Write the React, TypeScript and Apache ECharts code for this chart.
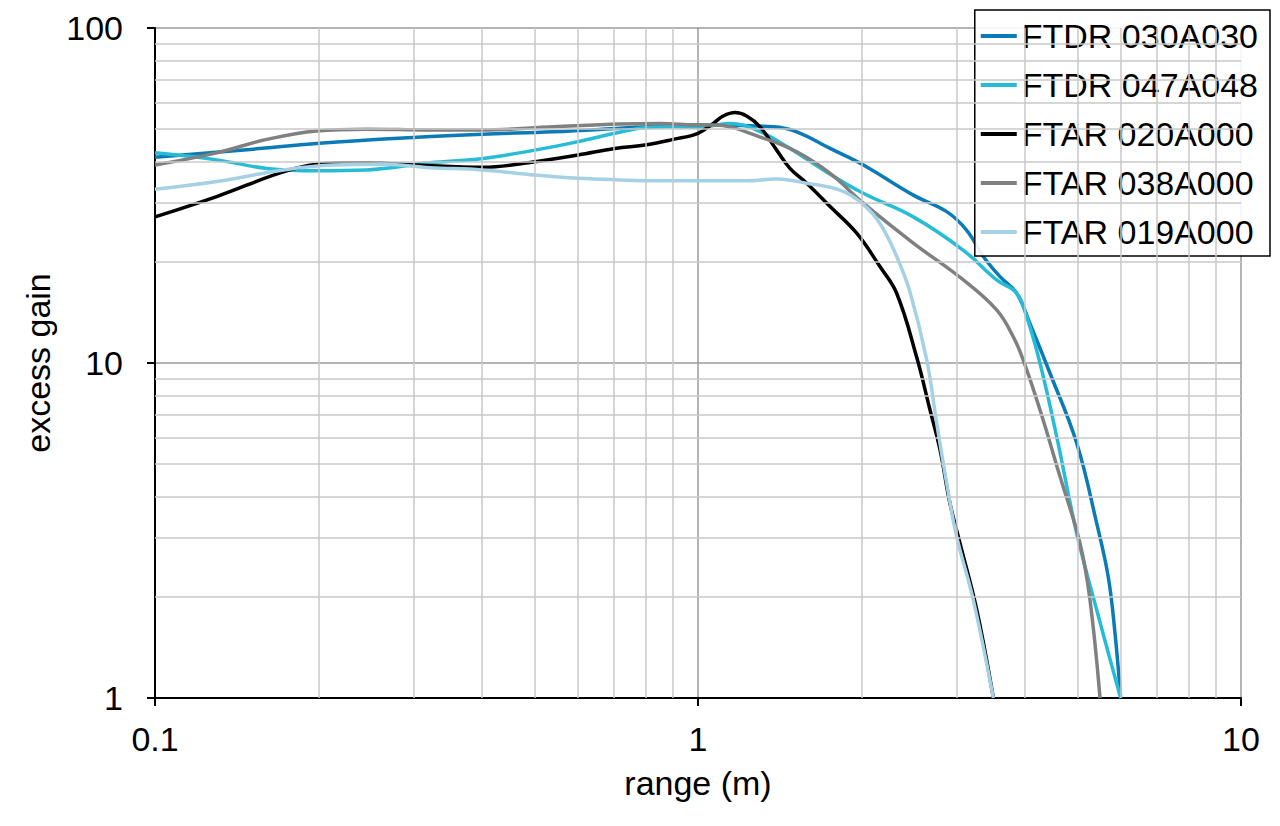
import React, { useEffect, useRef } from "react";
import * as echarts from "echarts";

const SERIES_NAMES = ["FTDR 030A030", "FTDR 047A048", "FTAR 020A000", "FTAR 038A000", "FTAR 019A000"];
const SERIES_COLORS = ["#0a7bb6", "#26bcd7", "#000000", "#808080", "#a5d1e5"];

const X_TICKS = [0.1, 1, 10];
const Y_TICKS = [1, 10, 100];
const X_MINOR = [0.2, 0.3, 0.4, 0.5, 0.6, 0.7, 0.8, 0.9, 2, 3, 4, 5, 6, 7, 8, 9];
const Y_MINOR = [2, 3, 4, 5, 6, 7, 8, 9, 20, 30, 40, 50, 60, 70, 80, 90];

const FTDR_030A030: [number, number][] = [
  [0.1, 41.1], [0.1496, 43.4], [0.2007, 45.3], [0.3034, 47.2], [0.4014, 48.2], [0.5416, 49.0],
  [0.7184, 50.2], [0.851, 51.0], [1.0, 51.3], [1.376, 50.7], [1.52, 49.0], [1.751, 43.7],
  [2.016, 39.0], [2.492, 31.7], [2.871, 28.3], [3.125, 24.9], [3.353, 20.8], [3.599, 18.1],
  [3.863, 16.15], [4.087, 13.1], [4.449, 9.32], [4.983, 5.76], [5.424, 3.32], [5.695, 2.3],
  [5.861, 1.56], [6.003, 1.0],
];
const FTDR_047A048: [number, number][] = [
  [0.1, 42.4], [0.1299, 40.4], [0.1606, 38.1], [0.1985, 37.5], [0.2454, 37.7], [0.3209, 39.6],
  [0.4014, 40.8], [0.501, 43.2], [0.6019, 45.8], [0.7033, 48.5], [0.8043, 50.5], [0.9006, 50.7],
  [1.0, 50.5], [1.145, 51.9], [1.282, 49.6], [1.477, 43.7], [1.701, 37.7], [2.016, 32.1],
  [2.492, 27.3], [3.081, 21.7], [3.548, 17.7], [3.863, 16.15], [4.03, 13.75], [4.265, 9.98],
  [4.577, 6.03], [4.983, 3.1], [5.424, 1.83], [6.003, 1.0],
];
const FTAR_020A000: [number, number][] = [
  [0.1, 27.3], [0.1299, 31.4], [0.1773, 37.7], [0.213, 39.5], [0.2454, 39.6], [0.3034, 39.0],
  [0.4014, 38.4], [0.501, 39.9], [0.6019, 41.8], [0.7033, 43.7], [0.8043, 44.8], [0.9006, 46.5],
  [1.0, 48.5], [1.067, 51.9], [1.113, 54.6], [1.17, 55.9], [1.229, 54.6], [1.301, 50.7],
  [1.396, 43.2], [1.477, 38.1], [1.586, 34.4], [1.751, 29.3], [1.96, 24.4], [2.163, 19.4],
  [2.322, 16.15], [2.528, 10.4], [2.675, 7.24], [2.791, 5.5], [2.911, 3.81], [3.037, 2.9],
  [3.262, 1.83], [3.499, 1.0],
];
const FTAR_038A000: [number, number][] = [
  [0.1, 39.0], [0.1299, 42.4], [0.1606, 46.5], [0.1985, 49.3], [0.2454, 49.9], [0.3209, 49.6],
  [0.4014, 49.6], [0.5416, 50.7], [0.7184, 51.7], [0.851, 51.9], [1.0, 51.3], [1.067, 51.3],
  [1.319, 46.9], [1.52, 42.7], [1.751, 36.8], [2.016, 30.0], [2.492, 22.8], [3.081, 17.7],
  [3.548, 14.4], [3.807, 11.98], [3.972, 10.2], [4.265, 7.24], [4.642, 4.58], [5.052, 2.9],
  [5.271, 1.96], [5.5, 1.0],
];
const FTAR_019A000: [number, number][] = [
  [0.1, 33.0], [0.1299, 34.8], [0.1723, 37.7], [0.213, 39.0], [0.2633, 39.2], [0.3209, 38.3],
  [0.4014, 37.7], [0.501, 36.4], [0.6019, 35.6], [0.7184, 35.2], [0.8275, 35.0], [1.052, 35.0],
  [1.229, 35.0], [1.396, 35.4], [1.586, 34.4], [1.826, 32.8], [2.002, 30.0], [2.163, 26.1],
  [2.322, 20.8], [2.457, 16.3], [2.638, 10.2], [2.752, 6.61], [2.871, 4.37], [2.995, 3.03],
  [3.214, 1.96], [3.499, 1.0],
];

const SERIES_DATA = [FTDR_030A030, FTDR_047A048, FTAR_020A000, FTAR_038A000, FTAR_019A000];

const FONT = '"Liberation Sans", Arial, sans-serif';

export default function App() {
  const ref = useRef<HTMLDivElement>(null);
  useEffect(() => {
    document.body.style.margin = "0";
    const chart = echarts.init(ref.current!, null, { renderer: "svg" });
    const lines = SERIES_NAMES.map((name, i) => ({
      name,
      type: "line",
      data: SERIES_DATA[i],
      smooth: 0.4,
      symbol: "none",
      showSymbol: false,
      z: 3,
      lineStyle: { color: SERIES_COLORS[i], width: 3.5 },
      itemStyle: { color: SERIES_COLORS[i] },
    }));
    const option = {
      animation: false,
      textStyle: { fontFamily: FONT },
      grid: { left: 155, right: 39, top: 28, bottom: 128, containLabel: false },
      xAxis: {
        type: "log",
        logBase: 10,
        min: X_TICKS[0],
        max: X_TICKS[X_TICKS.length - 1],
        name: "range (m)",
        nameLocation: "middle",
        nameGap: 68,
        nameTextStyle: { fontSize: 34, color: "#000", fontFamily: FONT },
        axisLine: { show: true, onZero: false, lineStyle: { color: "#000", width: 2 } },
        axisTick: { show: true, length: 8, lineStyle: { color: "#000", width: 2 } },
        axisLabel: { fontSize: 34, color: "#000", margin: 24, fontFamily: FONT, formatter: (v: number) => String(v) },
        splitLine: { show: true, lineStyle: { color: "#9a9a9a", width: 1.5 } },
      },
      yAxis: {
        type: "log",
        logBase: 10,
        min: Y_TICKS[0],
        max: Y_TICKS[Y_TICKS.length - 1],
        name: "excess gain",
        nameLocation: "middle",
        nameGap: 90,
        nameTextStyle: { fontSize: 34, color: "#000", fontFamily: FONT },
        axisLine: { show: true, onZero: false, lineStyle: { color: "#000", width: 2 } },
        axisTick: { show: true, length: 8, lineStyle: { color: "#000", width: 2 } },
        axisLabel: { fontSize: 34, color: "#000", margin: 32, fontFamily: FONT, formatter: (v: number) => String(v) },
        splitLine: { show: true, lineStyle: { color: "#9a9a9a", width: 1.5 } },
      },
      legend: {
        data: SERIES_NAMES,
        orient: "vertical",
        right: 10,
        top: 10,
        icon: "rect",
        itemWidth: 36,
        itemHeight: 4,
        itemGap: 15,
        padding: [9, 12, 7, 6],
        borderColor: "#000",
        borderWidth: 1.5,
        borderRadius: 0,
        backgroundColor: "rgba(255,255,255,0.9)",
        textStyle: { fontSize: 34, color: "#000", fontFamily: FONT },
      },
      series: [
        {
          name: "minor-grid",
          type: "line",
          data: [],
          z: 1,
          silent: true,
          markLine: {
            silent: true,
            symbol: ["none", "none"],
            label: { show: false },
            lineStyle: { color: "#c8c8c8", width: 1.5, type: "solid" },
            emphasis: { disabled: true },
            data: [
              ...X_MINOR.map((v) => ({ xAxis: v })),
              ...Y_MINOR.map((v) => ({ yAxis: v })),
            ],
          },
        },
        ...lines,
      ],
    };
    chart.setOption(option as any);
    return () => chart.dispose();
  }, []);
  return <div ref={ref} style={{ width: 1280, height: 826 }} />;
}
